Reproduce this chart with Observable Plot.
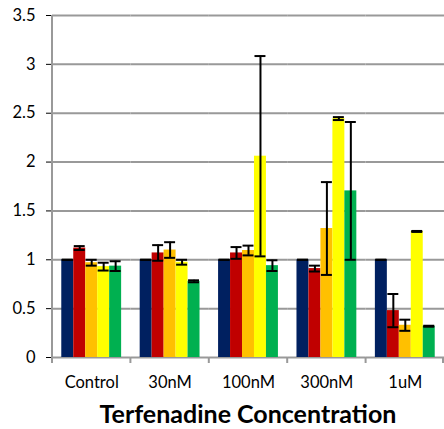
<!DOCTYPE html>
<html>
<head>
<meta charset="utf-8">
<script src="https://cdn.jsdelivr.net/npm/d3@7"></script>
<script src="https://cdn.jsdelivr.net/npm/@observablehq/plot@0.6"></script>
<style>
  html, body { margin: 0; padding: 0; background: #fff; overflow: hidden; }
  #chart { width: 444px; }
  #title {
    font-family: Lato, "Open Sans", sans-serif;
    font-weight: bold;
    font-size: 25px;
    line-height: 30px;
    color: #000;
    text-align: center;
    padding-left: 52px;
    margin-top: 6px;
    white-space: nowrap;
  }
</style>
</head>
<body>
<div id="chart"></div>
<script>
// Concentration groups along the x axis
const groups = ["Control", "30nM", "100nM", "300nM", "1uM"];

// Five series per group, each with its fill colour
const series = ["s1", "s2", "s3", "s4", "s5"];
const seriesColors = ["#002060", "#C00000", "#FFC000", "#FFFF00", "#00B050"];

// Mean response per series, one value per group
const s1Mean = [1.00, 1.00, 1.00, 1.00, 1.00];
const s2Mean = [1.12, 1.07, 1.07, 0.91, 0.48];
const s3Mean = [0.97, 1.10, 1.095, 1.32, 0.33];
const s4Mean = [0.93, 0.975, 2.06, 2.445, 1.29];
const s5Mean = [0.935, 0.78, 0.94, 1.705, 0.32];

// Error (± half-range) per series, one value per group
const s1Err = [0.00, 0.00, 0.00, 0.00, 0.00];
const s2Err = [0.02, 0.08, 0.06, 0.03, 0.17];
const s3Err = [0.03, 0.08, 0.05, 0.475, 0.057];
const s4Err = [0.04, 0.025, 1.025, 0.015, 0.005];
const s5Err = [0.05, 0.01, 0.055, 0.705, 0.005];

// Y axis ticks and their labels
const yTicks = [0, 0.5, 1, 1.5, 2, 2.5, 3, 3.5];
const yTickLabels = ["0", "0.5", "1", "1.5", "2", "2.5", "3", "3.5"];

const xTitle = "Terfenadine Concentration";

const means = [s1Mean, s2Mean, s3Mean, s4Mean, s5Mean];
const errs = [s1Err, s2Err, s3Err, s4Err, s5Err];

const rows = [];
groups.forEach((g, gi) => {
  series.forEach((s, si) => {
    const v = means[si][gi], e = errs[si][gi];
    rows.push({group: g, series: s, value: v, lo: v - e, hi: v + e});
  });
});

const gridColor = "#999";
const groupData = groups.slice();

// Short tick below the baseline on the left edge of each group band,
// the y axis line on the first band, and a closing tick on the last band.
function edgeMarks(index, scales, values, dims) {
  const g = d3.create("svg:g").attr("stroke", gridColor).attr("stroke-width", 2);
  const y0 = scales.y(0);
  const left = dims.marginLeft;
  const right = dims.width - dims.marginRight;
  const names = Array.from(index, (i) => groupData[i]);
  const top = names.includes(groups[0]) ? scales.y(yTicks[yTicks.length - 1]) : y0;
  g.append("line").attr("x1", left).attr("x2", left).attr("y1", top).attr("y2", y0 + 6);
  if (names.includes(groups[groups.length - 1])) {
    g.append("line").attr("x1", right - 1).attr("x2", right - 1).attr("y1", y0).attr("y2", y0 + 6);
  }
  return g.node();
}

const chart = Plot.plot({
  width: 444,
  height: 392,
  marginLeft: 52,
  marginRight: 0,
  marginTop: 15,
  marginBottom: 35,
  style: {fontFamily: "Lato, 'Open Sans', sans-serif", fontSize: "16.5px", color: "#000", background: "#fff"},
  fx: {domain: groups, padding: 0, round: false, label: null, tickSize: 0, tickPadding: 19},
  x: {domain: series, paddingInner: 0, paddingOuter: 0.775, round: false, axis: null},
  y: {
    domain: [0, 3.5],
    ticks: yTicks,
    tickFormat: (d) => yTickLabels[yTicks.indexOf(d)],
    tickSize: 6,
    tickPadding: 11,
    label: null
  },
  color: {domain: series, range: seriesColors},
  marks: [
    Plot.ruleY(yTicks, {stroke: gridColor, strokeWidth: 2}),
    Plot.ruleY(groupData, {fx: (d) => d, y: () => 0, stroke: "none", render: edgeMarks}),
    Plot.barY(rows, {fx: "group", x: "series", y: "value", fill: "series"}),
    Plot.ruleX(rows, {fx: "group", x: "series", y1: "lo", y2: "hi", stroke: "#000", strokeWidth: 2}),
    Plot.tickY(rows, {fx: "group", x: "series", y: "hi", stroke: "#000", strokeWidth: 2, insetLeft: 0.5, insetRight: 0.5}),
    Plot.tickY(rows, {fx: "group", x: "series", y: "lo", stroke: "#000", strokeWidth: 2, insetLeft: 0.5, insetRight: 0.5})
  ]
});

document.getElementById("chart").appendChild(chart);
const title = document.createElement("div");
title.id = "title";
title.textContent = xTitle;
document.getElementById("chart").appendChild(title);
</script>
</body>
</html>
